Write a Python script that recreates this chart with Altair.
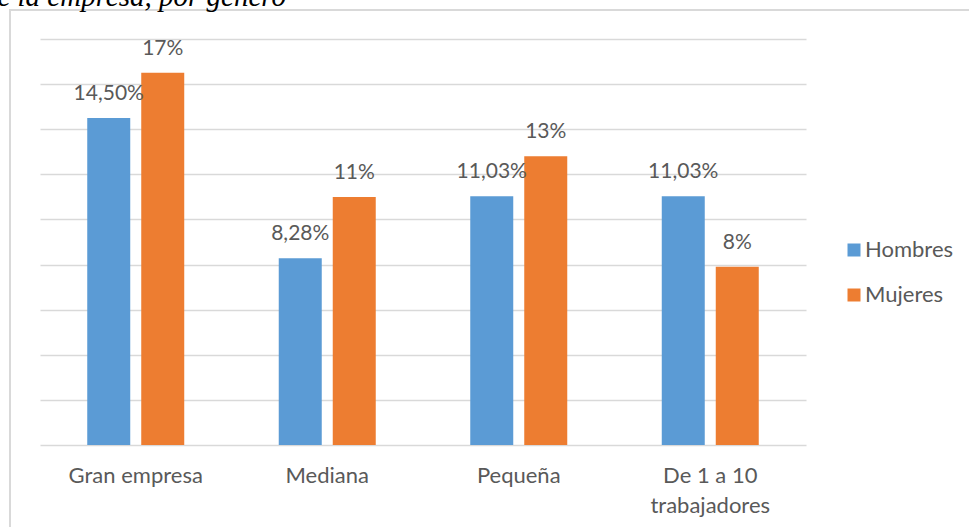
import altair as alt
import pandas as pd

categories = ["Gran empresa", "Mediana", "Pequeña", "De 1 a 10 trabajadores"]
series = ["Hombres", "Mujeres"]
hombres = [14.50, 8.28, 11.03, 11.03]
mujeres = [16.5, 11.0, 12.8, 7.9]
hombres_labels = ["14,50%", "8,28%", "11,03%", "11,03%"]
mujeres_labels = ["17%", "11%", "13%", "8%"]
colors = ["#5B9BD5", "#ED7D31"]
title_text = "Distribución según tamaño de la empresa, por género"

rows = []
for i, c in enumerate(categories):
    rows.append({"cat": c, "serie": "Hombres", "val": hombres[i], "lab": hombres_labels[i]})
    rows.append({"cat": c, "serie": "Mujeres", "val": mujeres[i], "lab": mujeres_labels[i]})
df = pd.DataFrame(rows)

FONT = "Lato"
GRAY = "#595959"

x = alt.X("cat:N", sort=categories, title=None,
          scale=alt.Scale(paddingInner=0.4935, paddingOuter=0.2467),
          axis=alt.Axis(labelAngle=0, ticks=False, domain=False, labelFont=FONT,
                        labelFontSize=22, labelColor=GRAY, labelPadding=20,
                        labelLineHeight=30,
                        labelExpr="datum.label == 'De 1 a 10 trabajadores' ? ['De 1 a 10', 'trabajadores'] : datum.label"))
xo = alt.XOffset("serie:N", sort=series, scale=alt.Scale(paddingInner=0.2037, paddingOuter=0))
y = alt.Y("val:Q", title=None, scale=alt.Scale(domain=[0, 18], nice=False),
          axis=alt.Axis(values=list(range(0, 19, 2)), labels=False, ticks=False, domain=False,
                        grid=True, gridColor="#d9d9d9", gridWidth=1.3))
color = alt.Color("serie:N", sort=series, title=None,
                  scale=alt.Scale(domain=series, range=colors),
                  legend=alt.Legend(orient="none", legendX=803, legendY=200,
                                    symbolType="square", symbolSize=169, symbolStrokeWidth=0,
                                    labelFont=FONT, labelFontSize=22, labelColor=GRAY,
                                    labelOffset=0, rowPadding=23, padding=0))

base = alt.Chart(df)
bars = base.mark_bar().encode(x=x, xOffset=xo, y=y, color=color)
labels = base.mark_text(font=FONT, fontSize=21, color=GRAY, dy=-18, baseline="alphabetic").encode(
    x=x, xOffset=xo, y=y, text="lab:N")

deco = alt.Chart(alt.Data(values=[{"t": title_text}]))
border = deco.mark_rect(fill=None, stroke="#d9d9d9", strokeWidth=2).encode(
    x=alt.value(-30), y=alt.value(-29), x2=alt.value(940), y2=alt.value(500))
title = deco.mark_text(font="Liberation Serif", fontStyle="italic", fontSize=29, color="#000000",
                       align="right", baseline="alphabetic").encode(
    x=alt.value(246), y=alt.value(-33), text="t:N")

chart = alt.layer(border, bars, labels, title).properties(
    width=766, height=406,
    background="white",
    autosize=alt.AutoSizeParams(type="none"),
    padding={"left": 40, "top": 39, "right": 163, "bottom": 82},
).configure_view(strokeWidth=0)

chart.save("out.html", embed_options={"renderer": "svg", "actions": False})
